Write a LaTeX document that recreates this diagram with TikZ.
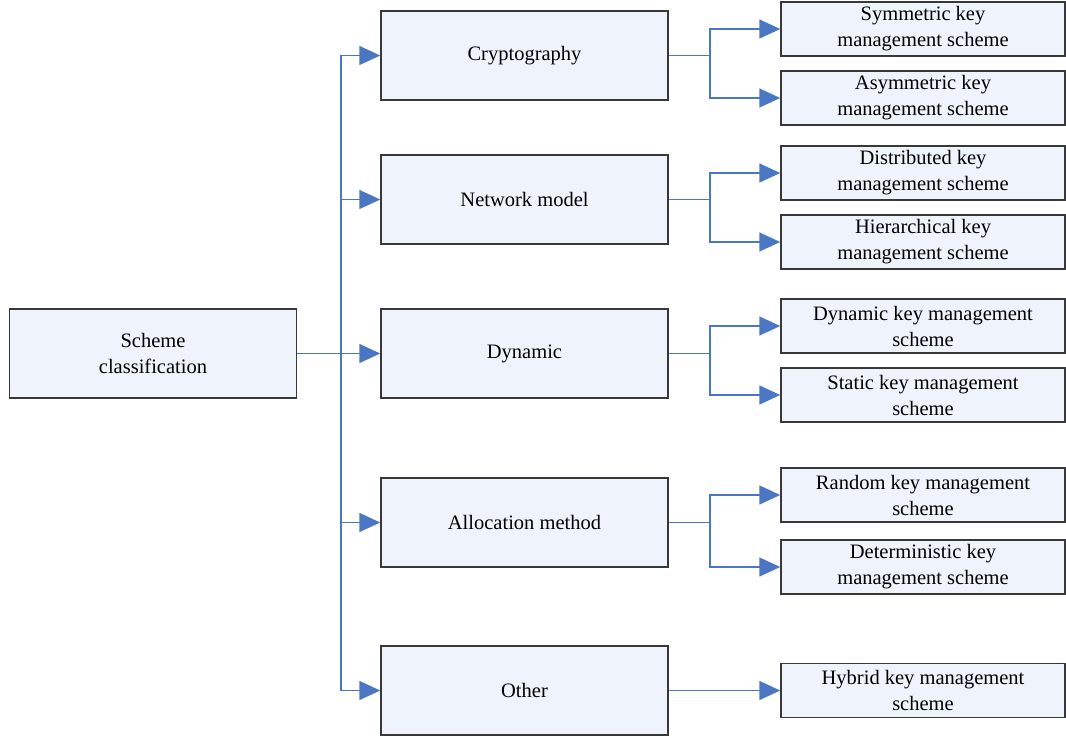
\documentclass[tikz,border=0pt]{standalone}
\usepackage{fontspec}
\setmainfont{Liberation Serif}
\usetikzlibrary{arrows.meta}
\definecolor{linkblue}{HTML}{4A76C4}
\definecolor{boxfill}{HTML}{EFF3FB}
\definecolor{boxline}{HTML}{383838}
\begin{document}
\begin{tikzpicture}[x=1pt, y=-1pt,
    box/.style={draw=boxline, line width=1.5pt, fill=boxfill, align=center,
      inner sep=0pt, font=\fontsize{20.5}{26}\selectfont},
    bigbox/.style={box, minimum width=287pt, minimum height=89pt},
    smallbox/.style={box, minimum width=284pt, minimum height=54pt},
    link/.style={draw=linkblue, line width=1.6pt},
    tip/.style={link, -{Triangle[length=21pt, width=19pt]}}]
    \useasboundingbox (0,0) rectangle (1066,738);
    % root and first level
    \node[bigbox] (root) at (153,353.5) {Scheme\\classification};
    \foreach \n/\y/\t in {crypto/55.5/Cryptography, network/199.5/Network model,
      dynamic/353.5/Dynamic, alloc/522.5/Allocation method, other/690.5/Other}
      \node[bigbox] (\n) at (524.5,\y) {\t};
    % second level
    \foreach \n/\y/\t in {sym/29/{Symmetric key\\management scheme},
      asym/98/{Asymmetric key\\management scheme},
      dist/173/{Distributed key\\management scheme},
      hier/242/{Hierarchical key\\management scheme},
      dynk/326/{Dynamic key management\\scheme},
      stat/395/{Static key management\\scheme},
      rand/495/{Random key management\\scheme},
      det/567/{Deterministic key\\management scheme},
      hyb/690.5/{Hybrid key management\\scheme}}
      \node[smallbox] (\n) at (923,\y) {\t};
    % connectors
    \coordinate (trunk) at (341,0);
    \coordinate (fork) at (710,0);
    \draw[link] (crypto.west -| trunk) -- (other.west -| trunk);
    \draw[tip] (root.east) -- (dynamic.west);
    \foreach \n in {crypto, network, alloc, other}
      \draw[tip] (\n.west -| trunk) -- (\n.west);
    \foreach \p/\a/\b in {crypto/sym/asym, network/dist/hier,
      dynamic/dynk/stat, alloc/rand/det} {
      \draw[link] (\p.east) -- (\p.east -| fork);
      \draw[tip] (\p.east -| fork) |- (\a.west);
      \draw[tip] (\p.east -| fork) |- (\b.west);
    }
    \draw[tip] (other.east) -- (hyb.west);
\end{tikzpicture}
\end{document}
